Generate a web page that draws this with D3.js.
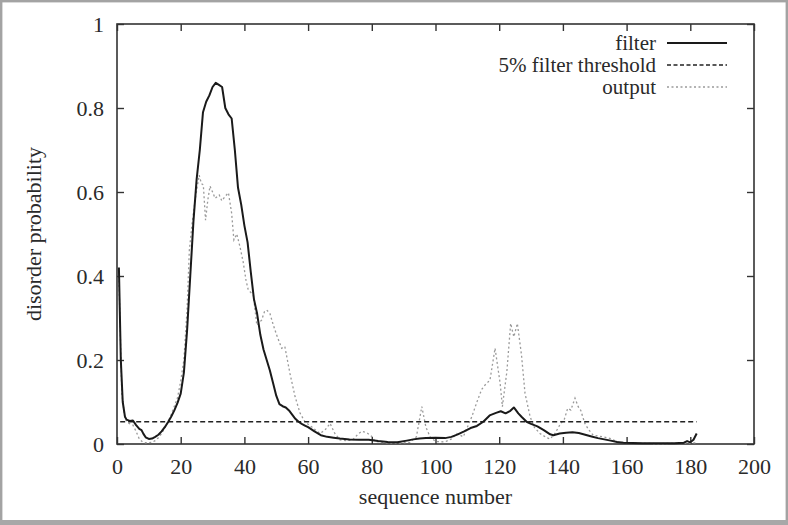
<html><head><meta charset="utf-8">
<script src="https://cdn.jsdelivr.net/npm/d3@7/dist/d3.min.js"></script>
</head><body style="margin:0">
<svg id="s" width="788" height="525"></svg>
<script>
// ---- data ----
const filterSeq = [0.6,1.2,1.8,2.5,3,4,5,6,7,7.7,8.3,9,10,11,12,13,14,15,16,17,18,19,20,21,22,23,24,25,26,27,28,29,30,31,32,33,34,35,36,37,38,39,40,41,42,43,44,45,46,47,48,49,50,51,52,53,54,55,56,57,58,59,60,62,64,66,68,70,73,76,79,82,85,88,91,93,95,97,100,103,105,107,109,111,113,115,117,119,120.5,122,123.5,124.6,126,127,128.6,130,132,134,136,137,139,141,143,145,147,149,151,153,155,157,159,165,170,175,178,179,180,181,182];
const filterVal = [0.42,0.2,0.1,0.065,0.058,0.055,0.056,0.045,0.036,0.033,0.024,0.016,0.012,0.013,0.017,0.022,0.03,0.04,0.052,0.065,0.08,0.098,0.12,0.17,0.27,0.40,0.53,0.63,0.70,0.79,0.815,0.83,0.85,0.86,0.855,0.85,0.80,0.785,0.775,0.70,0.61,0.57,0.52,0.48,0.41,0.345,0.31,0.26,0.225,0.20,0.175,0.145,0.115,0.095,0.09,0.087,0.08,0.07,0.06,0.053,0.048,0.044,0.04,0.03,0.021,0.017,0.015,0.013,0.011,0.01,0.01,0.007,0.005,0.004,0.008,0.011,0.013,0.014,0.015,0.014,0.017,0.023,0.03,0.038,0.043,0.053,0.068,0.074,0.078,0.073,0.079,0.087,0.073,0.065,0.053,0.048,0.042,0.033,0.023,0.021,0.025,0.027,0.028,0.026,0.022,0.018,0.014,0.011,0.008,0.005,0.003,0.002,0.002,0.002,0.003,0.007,0.004,0.01,0.025];

const outputSeq = [0.6,1.5,2.5,3.5,5,6,7,8,9,10,11,12,13,14,15,16,17,18,19,20,21,22,22.7,23.5,24.5,25.8,26.5,27.1,27.8,28.5,29.2,30,30.8,32.1,32.9,34,35,36,36.7,37.6,38.6,39.6,40.5,41.2,42.8,43.9,45.4,46.3,47,48,49,50.1,51.7,52.7,53.5,54.3,55.9,57.5,59,61.1,63.7,65.3,66.9,68.4,70,72,74,75.5,76.8,78.4,80,81,84,88,92,94,95.7,97,98.3,100,103,105,106.7,108.7,110,111.4,113,114.5,115.5,117.1,118.7,120.3,121,122.4,123.6,124.6,125.7,127,128.1,129.7,131,132.8,134.9,136,137.5,139,140.5,141.5,142.5,143.8,144.8,145.6,146.9,148,149.5,152.7,155,157,160,170,180,182];
const outputVal = [0.40,0.12,0.06,0.05,0.045,0.03,0.012,0.005,0.003,0.003,0.004,0.008,0.015,0.025,0.038,0.052,0.07,0.09,0.11,0.15,0.2,0.32,0.46,0.52,0.58,0.64,0.62,0.617,0.533,0.58,0.614,0.60,0.585,0.593,0.579,0.59,0.598,0.549,0.486,0.50,0.47,0.434,0.39,0.367,0.355,0.283,0.295,0.315,0.319,0.311,0.285,0.26,0.228,0.232,0.2,0.168,0.113,0.073,0.053,0.041,0.025,0.033,0.049,0.025,0.01,0.008,0.01,0.022,0.03,0.027,0.018,0.006,0.003,0.002,0.004,0.017,0.089,0.04,0.017,0.006,0.005,0.012,0.025,0.017,0.04,0.065,0.1,0.13,0.14,0.152,0.228,0.144,0.089,0.172,0.287,0.255,0.287,0.212,0.121,0.065,0.04,0.025,0.015,0.012,0.025,0.045,0.06,0.085,0.081,0.109,0.089,0.08,0.049,0.035,0.021,0.017,0.013,0.005,0.002,0.001,0.002,0.003];

const thresholdSeq = [1, 182];
const thresholdVal = [0.053, 0.053];

const xTicks = [0,20,40,60,80,100,120,140,160,180,200];
const yTicks = [0,0.2,0.4,0.6,0.8,1];
const yTickLabels = ["0","0.2","0.4","0.6","0.8","1"];
const legendLabels = ["filter","5% filter threshold","output"];

// ---- drawing ----
(function () {
const svg = d3.select("#s");
const W = 788, H = 525;
const mL = 117, mR = 754, mT = 24, mB = 444;
const txtColor = "#2a2a2a";
const styleText = (sel, fs) => sel
  .style("font-family", "serif")
  .style("font-size", (fs || 22) + "px").attr("fill", txtColor);

svg.append("rect").attr("x",1.2).attr("y",1.2).attr("width",W-2.4).attr("height",H-2.4)
  .attr("fill","#fff").attr("stroke","#a3a3a3").attr("stroke-width",2.4);
svg.append("rect").attr("x",0).attr("y",H-5).attr("width",W).attr("height",5).attr("fill","#a8a8a8");

const x = d3.scaleLinear().domain([0,200]).range([mL,mR]);
const y = d3.scaleLinear().domain([0,1]).range([mB,mT]);

const tickLen = 7;
const axisColor = "#333";

const gb = svg.append("g").attr("transform",`translate(0,${mB})`)
  .call(d3.axisBottom(x).tickValues(xTicks).tickSize(-tickLen).tickFormat(d3.format("d")));
const gt = svg.append("g").attr("transform",`translate(0,${mT})`)
  .call(d3.axisTop(x).tickValues(xTicks).tickSize(-tickLen).tickFormat(""));
const gl = svg.append("g").attr("transform",`translate(${mL},0)`)
  .call(d3.axisLeft(y).tickValues(yTicks).tickSize(-tickLen).tickFormat((d,i)=>yTickLabels[i]));
const gr = svg.append("g").attr("transform",`translate(${mR},0)`)
  .call(d3.axisRight(y).tickValues(yTicks).tickSize(-tickLen).tickFormat(""));
[gb,gt,gl,gr].forEach(g=>{
  g.attr("font-family", null).attr("font-size", null);
  g.select(".domain").remove();
  g.selectAll(".tick line").attr("stroke",axisColor).attr("stroke-width",1.4);
  g.selectAll("text").call(styleText, 22);
});
gb.selectAll("text").attr("y",22).attr("dy","0.35em");
gl.selectAll("text").attr("x",-13).attr("dy","0.35em");

svg.append("rect").attr("x",mL).attr("y",mT).attr("width",mR-mL).attr("height",mB-mT)
  .attr("fill","none").attr("stroke",axisColor).attr("stroke-width",1.6);

const line = d3.line().x(d=>x(d[0])).y(d=>y(d[1]));
const zip = (a,b)=>a.map((v,i)=>[v,b[i]]);

svg.append("path").datum(zip(outputSeq,outputVal)).attr("d",line)
  .attr("fill","none").attr("stroke","#9a9a9a").attr("stroke-width",1.3).attr("stroke-dasharray","2,2.5");
svg.append("path").datum(zip(thresholdSeq,thresholdVal)).attr("d",line)
  .attr("fill","none").attr("stroke","#222").attr("stroke-width",1.5).attr("stroke-dasharray","5,3");
svg.append("path").datum(zip(filterSeq,filterVal)).attr("d",line)
  .attr("fill","none").attr("stroke","#1a1a1a").attr("stroke-width",2).attr("stroke-linejoin","round");

const legY = [43, 65, 87];
const legStyles = [
  {stroke:"#1a1a1a", w:2, dash:null},
  {stroke:"#222", w:1.5, dash:"4,2.5"},
  {stroke:"#9a9a9a", w:1.3, dash:"2,2.5"}
];
legendLabels.forEach((lab,i)=>{
  svg.append("text").attr("x",656).attr("y",legY[i]).attr("dy","0.33em")
    .attr("text-anchor","end").call(styleText, 21).text(lab);
  const l = svg.append("line").attr("x1",667).attr("x2",727).attr("y1",legY[i]).attr("y2",legY[i])
    .attr("stroke",legStyles[i].stroke).attr("stroke-width",legStyles[i].w);
  if (legStyles[i].dash) l.attr("stroke-dasharray",legStyles[i].dash);
});

svg.append("text").attr("x",(mL+mR)/2).attr("y",497).attr("dy","0.33em")
  .attr("text-anchor","middle").call(styleText, 22).text("sequence number");
svg.append("text").attr("transform",`translate(34,${(mT+mB)/2}) rotate(-90)`).attr("dy","0.33em")
  .attr("text-anchor","middle").call(styleText, 22).text("disorder probability");
})();
</script></body></html>
